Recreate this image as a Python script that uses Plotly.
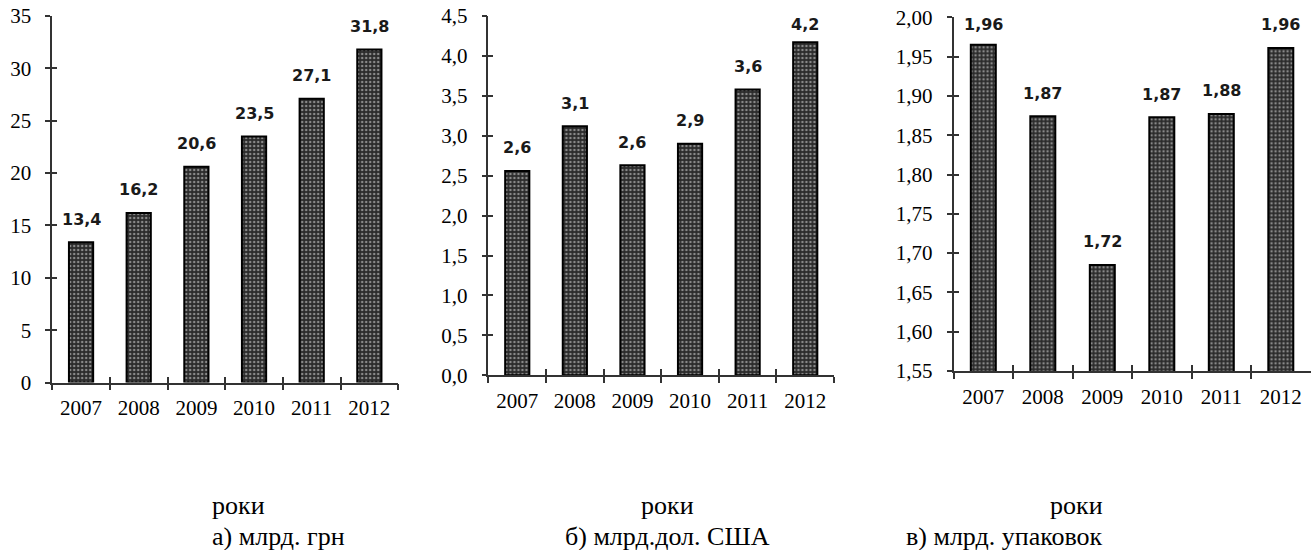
import plotly.graph_objects as go

# ---------------- data ----------------
years = ["2007", "2008", "2009", "2010", "2011", "2012"]

uah_bn = [13.4, 16.2, 20.6, 23.5, 27.1, 31.8]
uah_labels = ["13,4", "16,2", "20,6", "23,5", "27,1", "31,8"]

usd_bn = [2.56, 3.12, 2.63, 2.90, 3.58, 4.17]
usd_labels = ["2,6", "3,1", "2,6", "2,9", "3,6", "4,2"]

packs_bn = [1.965, 1.874, 1.685, 1.873, 1.877, 1.961]
packs_labels = ["1,96", "1,87", "1,72", "1,87", "1,88", "1,96"]

uah_ticks = [0, 5, 10, 15, 20, 25, 30, 35]
usd_ticks = [0.0, 0.5, 1.0, 1.5, 2.0, 2.5, 3.0, 3.5, 4.0, 4.5]
packs_ticks = [1.55, 1.60, 1.65, 1.70, 1.75, 1.80, 1.85, 1.90, 1.95, 2.00]

axis_word = "роки"
captions = ["а) млрд. грн", "б) млрд.дол. США", "в) млрд. упаковок"]

# ---------------- layout constants ----------------
W, H = 1312, 550
xdomains = [[0.0398, 0.3035], [0.3723, 0.6357], [0.7268, 0.9989]]
ydomains = [[0.3045, 0.9709], [0.3176, 0.9709], [0.3255, 0.9685]]
yranges = [[0, 35], [0, 4.5], [1.55, 2.00]]
tickformats = ["d", ".1f", ".2f"]
caption_x = [210, 667, 1105]

panels = [
    (uah_bn, uah_labels, uah_ticks),
    (usd_bn, usd_labels, usd_ticks),
    (packs_bn, packs_labels, packs_ticks),
]

AXIS_COLOR = "#333333"
TICK_FONT = dict(family="Liberation Serif, Times New Roman, serif", size=21, color="black")
LABEL_FONT = dict(family="DejaVu Sans, Verdana, sans-serif", size=16, color="#1a1a1a", weight="bold")
CAP_FONT = dict(family="Liberation Serif, Times New Roman, serif", size=26, color="black")

fig = go.Figure()
annotations = []
layout_axes = {}

for i, (vals, labels, ticks) in enumerate(panels):
    n = i + 1
    xid = "x" if n == 1 else f"x{n}"
    yid = "y" if n == 1 else f"y{n}"
    xo, yo = f"x{n+3}", f"y{n+3}"

    fig.add_trace(go.Bar(
        x=years, y=vals, xaxis=xid, yaxis=yid, width=0.42,
        marker=dict(
            color="#2b2b2b",
            line=dict(color="black", width=2),
            pattern=dict(shape=".", fgcolor="#e6e6e6", bgcolor="#2b2b2b",
                         size=4, solidity=0.3),
        ),
        showlegend=False, hoverinfo="skip",
    ))
    # invisible copy so the overlay axes (inner halves of crossing ticks) exist
    fig.add_trace(go.Bar(
        x=years, y=vals, xaxis=xo, yaxis=yo, width=0.42,
        marker=dict(color="rgba(0,0,0,0)", line=dict(width=0)),
        showlegend=False, hoverinfo="skip",
    ))

    rng = yranges[i]
    layout_axes[("xaxis" if n == 1 else f"xaxis{n}")] = dict(
        domain=xdomains[i], anchor=yid, type="category", range=[-0.5, 5.5],
        tickson="boundaries", ticks="outside", ticklen=6, tickwidth=1.5,
        tickcolor=AXIS_COLOR, showline=True, linecolor=AXIS_COLOR, linewidth=1.5,
        showgrid=False, tickfont=TICK_FONT, ticklabelstandoff=6,
    )
    layout_axes[f"xaxis{n+3}"] = dict(
        overlaying=xid, anchor=yid, type="category", range=[-0.5, 5.5],
        tickson="boundaries", ticks="inside", ticklen=6, tickwidth=1.5,
        tickcolor=AXIS_COLOR, showline=False, showgrid=False, showticklabels=False,
    )
    layout_axes[("yaxis" if n == 1 else f"yaxis{n}")] = dict(
        domain=ydomains[i], anchor=xid, range=rng, tickvals=ticks,
        tickformat=tickformats[i], ticks="outside", ticklen=5, tickwidth=1.5,
        tickcolor=AXIS_COLOR, showline=True, linecolor=AXIS_COLOR, linewidth=1.5,
        showgrid=False, zeroline=False, tickfont=TICK_FONT, ticklabelstandoff=10,
    )
    layout_axes[f"yaxis{n+3}"] = dict(
        overlaying=yid, anchor=xid, range=rng, tickvals=ticks,
        ticks="inside", ticklen=5, tickwidth=1.5, tickcolor=AXIS_COLOR,
        showline=False, showgrid=False, zeroline=False, showticklabels=False,
    )

    # value labels above bars
    d0, d1 = ydomains[i]
    plot_h = (d1 - d0) * H
    ppu = plot_h / (rng[1] - rng[0])
    for j, (v, lab) in enumerate(zip(vals, labels)):
        top_px = H * (1 - d1) + (rng[1] - v) * ppu
        center_px = max(top_px - 23, 24)
        annotations.append(dict(
            x=j, y=v, xref=xid, yref=yid, text=lab, showarrow=False,
            xanchor="center", yanchor="middle", yshift=float(top_px - center_px),
            font=LABEL_FONT,
        ))

    # captions under each panel
    annotations.append(dict(
        x=caption_x[i] / W, y=1 - 505 / H, xref="paper", yref="paper",
        text=axis_word, showarrow=False, yanchor="middle", font=CAP_FONT,
    ))
    annotations.append(dict(
        x=caption_x[i] / W, y=1 - 536 / H, xref="paper", yref="paper",
        text=captions[i], showarrow=False, yanchor="middle", font=CAP_FONT,
    ))

fig.update_layout(
    width=W, height=H,
    margin=dict(l=0, r=0, t=0, b=0, autoexpand=False),
    paper_bgcolor="white", plot_bgcolor="white",
    separators=", ",
    annotations=annotations,
    **layout_axes,
)

fig.write_html(
    "out.html",
    config={"displayModeBar": False},
    post_script="document.body.style.margin='0';",
)
